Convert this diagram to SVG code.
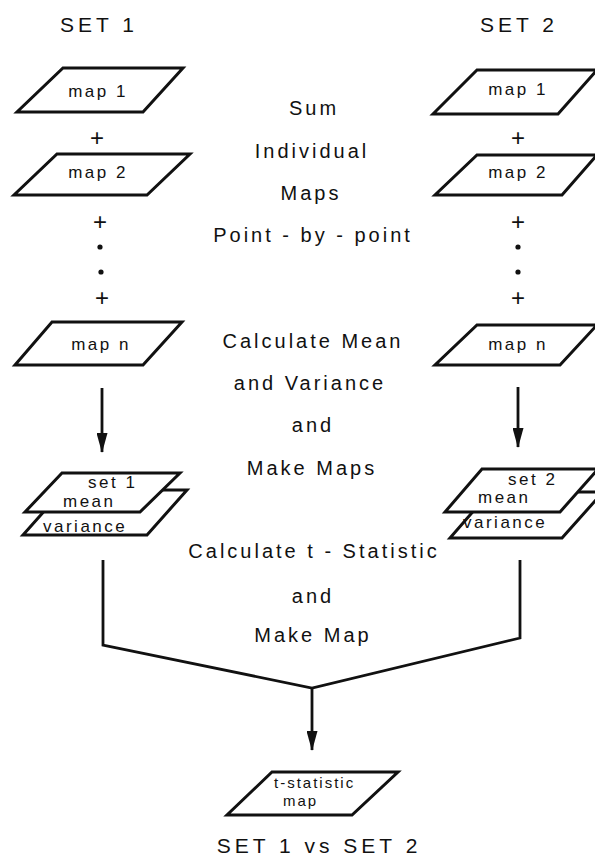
<svg xmlns="http://www.w3.org/2000/svg" width="595" height="859" viewBox="0 0 595 859">
<defs>
<style>
.box{fill:#fff;stroke:#111;stroke-width:3;stroke-linejoin:miter}
.ln{fill:none;stroke:#111;stroke-width:2.8}
.t{font-family:"Liberation Sans",Arial,sans-serif;fill:#111}
.title{font-size:21px;letter-spacing:4px;text-anchor:middle}
.mid{font-size:20px;letter-spacing:3px;text-anchor:middle}
.lab{font-size:17px;letter-spacing:2.5px;text-anchor:middle}
.lab2{font-size:17px;letter-spacing:2.5px}
.lab3{font-size:15px;letter-spacing:2px}
.plus{font-size:24px;text-anchor:middle}
</style>
<marker id="ah" markerWidth="20" markerHeight="11" refX="19" refY="5.5" orient="auto" markerUnits="userSpaceOnUse" viewBox="0 0 20 11">
<path d="M0,0 L20,5.5 L0,11 Z" fill="#111"/>
</marker>
</defs>
<rect width="595" height="859" fill="#fff"/>

<g id="titles">
<text class="t title" x="99" y="32">SET 1</text>
<text class="t title" x="519" y="32">SET 2</text>
<text class="t title" x="319" y="853">SET 1 vs SET 2</text>
</g>

<g id="middle-text">
<text class="t mid" x="314" y="115">Sum</text>
<text class="t mid" x="312" y="158">Individual</text>
<text class="t mid" x="311" y="200">Maps</text>
<text class="t mid" x="313" y="242">Point - by - point</text>
<text class="t mid" x="313" y="348">Calculate Mean</text>
<text class="t mid" x="310" y="390">and Variance</text>
<text class="t mid" x="313" y="432">and</text>
<text class="t mid" x="312" y="475">Make Maps</text>
<text class="t mid" x="314" y="558">Calculate t - Statistic</text>
<text class="t mid" x="313" y="603">and</text>
<text class="t mid" x="313" y="642">Make Map</text>
</g>

<g id="set1-map1">
<polygon class="box" points="63,68 183,68 143,112 17,112"/>
<text class="t lab" x="98" y="97">map 1</text>
</g>
<g id="set1-map2">
<polygon class="box" points="57,154 190,154 147,195 14,195"/>
<text class="t lab" x="98" y="178">map 2</text>
</g>
<g id="set1-mapn">
<polygon class="box" points="52,322 182,322 143,365 15,365"/>
<text class="t lab" x="101" y="350">map n</text>
</g>
<g id="set1-stats">
<polygon class="box" points="63,490 187,490 147,535 23,535"/>
<polygon class="box" points="62,473 180,473 140,512 25,512"/>
<text class="t lab2" x="88" y="488">set 1</text>
<text class="t lab2" x="63" y="507">mean</text>
<text class="t lab2" x="43" y="532">variance</text>
</g>

<g id="set2-map1">
<polygon class="box" points="477,70 597,70 558,114 433,114"/>
<text class="t lab" x="518" y="95">map 1</text>
</g>
<g id="set2-map2">
<polygon class="box" points="477,155 597,155 562,195 435,195"/>
<text class="t lab" x="518" y="178">map 2</text>
</g>
<g id="set2-mapn">
<polygon class="box" points="477,325 597,325 560,365 435,365"/>
<text class="t lab" x="518" y="350">map n</text>
</g>
<g id="set2-stats">
<polygon class="box" points="490,492 603,492 562,538 450,538"/>
<polygon class="box" points="482,469 598,469 560,512 445,512"/>
<text class="t lab2" x="508" y="485">set 2</text>
<text class="t lab2" x="478" y="503">mean</text>
<text class="t lab2" x="463" y="528">variance</text>
</g>

<g id="tstat-map">
<polygon class="box" points="272,772 398,772 352,815 227,815"/>
<text class="t lab3" x="274" y="788">t-statistic</text>
<text class="t lab3" x="283" y="806">map</text>
</g>

<g id="operators">
<text class="t plus" x="97" y="146">+</text>
<text class="t plus" x="100" y="230">+</text>
<circle cx="100" cy="247" r="2.6" fill="#111"/>
<circle cx="101" cy="272" r="2.6" fill="#111"/>
<text class="t plus" x="102" y="306">+</text>
<text class="t plus" x="518" y="146">+</text>
<text class="t plus" x="518" y="230">+</text>
<circle cx="518" cy="247" r="2.6" fill="#111"/>
<circle cx="518" cy="272" r="2.6" fill="#111"/>
<text class="t plus" x="518" y="306">+</text>
</g>

<g id="connectors">
<line class="ln" x1="102" y1="388" x2="102" y2="452" marker-end="url(#ah)"/>
<line class="ln" x1="518" y1="387" x2="518" y2="447" marker-end="url(#ah)"/>
<polyline class="ln" points="103,560 103,645 312,688 520,638 520,560"/>
<line class="ln" x1="312" y1="688" x2="312" y2="750" marker-end="url(#ah)"/>
</g>
</svg>
